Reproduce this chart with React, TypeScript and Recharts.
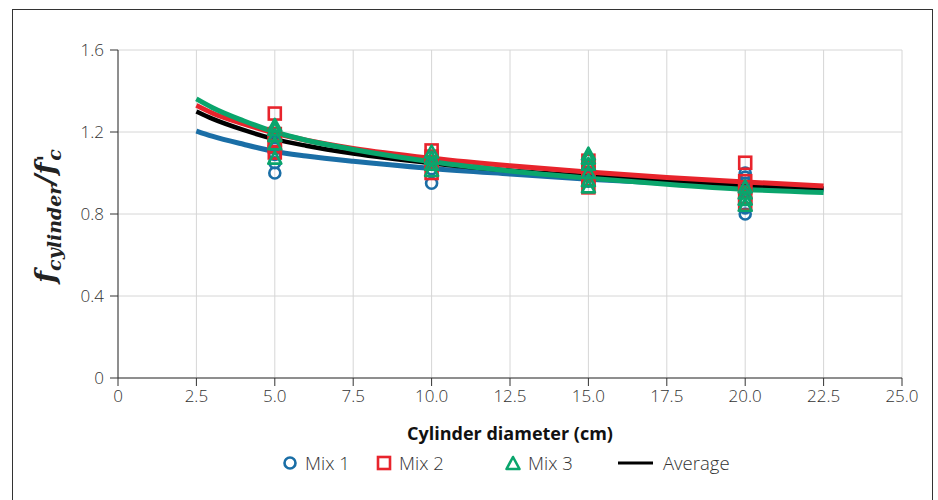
import React from "react";
import {
  ComposedChart, Line, Scatter, XAxis, YAxis, CartesianGrid,
} from "recharts";

const xTicks = [0, 2.5, 5, 7.5, 10, 12.5, 15, 17.5, 20, 22.5, 25];
const yTicks = [0, 0.4, 0.8, 1.2, 1.6];

// fitted curves
const curveX = [2.5, 3, 4, 5, 6, 7.5, 10, 12.5, 15, 17.5, 20, 22.5];
const mix1Curve = [1.205, 1.18, 1.14, 1.105, 1.083, 1.057, 1.022, 0.995, 0.97, 0.95, 0.933, 0.918];
const mix2Curve = [1.33, 1.293, 1.24, 1.195, 1.16, 1.12, 1.072, 1.035, 1.005, 0.978, 0.956, 0.937];
const mix3Curve = [1.362, 1.32, 1.255, 1.2, 1.16, 1.115, 1.055, 1.01, 0.975, 0.945, 0.92, 0.905];
const avgCurve = [1.3, 1.265, 1.21, 1.165, 1.133, 1.095, 1.048, 1.012, 0.985, 0.96, 0.94, 0.925];

// test results
const mix1X = [5, 5, 5, 5, 5, 10, 10, 10, 10, 15, 15, 15, 20, 20, 20, 20, 20, 20, 20];
const mix1Y = [1.0, 1.05, 1.09, 1.12, 1.15, 0.95, 1.02, 1.05, 1.08, 0.96, 1.0, 1.03, 0.8, 0.83, 0.87, 0.91, 0.95, 0.98, 1.0];
const mix2X = [5, 5, 5, 5, 5, 10, 10, 10, 10, 15, 15, 15, 15, 15, 20, 20, 20, 20, 20];
const mix2Y = [1.29, 1.1, 1.13, 1.16, 1.19, 1.0, 1.05, 1.08, 1.11, 0.93, 0.97, 1.0, 1.03, 1.06, 0.85, 0.88, 0.93, 0.96, 1.05];
const mix3X = [5, 5, 5, 5, 5, 10, 10, 10, 10, 15, 15, 15, 15, 15, 15, 20, 20, 20, 20];
const mix3Y = [1.07, 1.14, 1.18, 1.21, 1.23, 1.01, 1.04, 1.07, 1.1, 0.93, 0.96, 1.0, 1.04, 1.07, 1.09, 0.84, 0.87, 0.9, 0.93];

const legendLabels = ["Mix 1", "Mix 2", "Mix 3", "Average"];

const BLUE = "#1a6ea6";
const RED = "#e8242c";
const GREEN = "#0aa56c";
const FONT = "'Open Sans', 'Noto Sans', sans-serif";

const toRows = (xs: number[], ys: number[]) => xs.map((x, i) => ({ x, y: ys[i] }));

const fmt = (v: number) => (v === 0 ? "0" : v.toFixed(1));

function Circle({ cx, cy, color }: any) {
  return <circle cx={cx} cy={cy} r={5.5} fill="none" stroke={color} strokeWidth={2.6} />;
}
function Square({ cx, cy, color }: any) {
  return <rect x={cx - 6} y={cy - 6} width={12} height={12} fill="none" stroke={color} strokeWidth={2.6} />;
}
function Triangle({ cx, cy, color }: any) {
  return (
    <polygon
      points={`${cx},${cy - 7} ${cx + 6.5},${cy + 5} ${cx - 6.5},${cy + 5}`}
      fill="none" stroke={color} strokeWidth={2.6} strokeLinejoin="round"
    />
  );
}

function ChartLegend() {
  const icons = [
    <Circle cx={9} cy={11} color={BLUE} />,
    <Square cx={9} cy={11} color={RED} />,
    <Triangle cx={9} cy={12} color={GREEN} />,
    <line x1={1} x2={36} y1={11} y2={11} stroke="#000" strokeWidth={3} />,
  ];
  const lefts = [281, 375, 504, 617];
  return (
    <div style={{ position: "absolute", top: 450, left: 0, fontFamily: FONT, fontSize: 18.5, color: "#333", fontWeight: 300 }}>
      {legendLabels.map((label, i) => (
        <div key={label} style={{ position: "absolute", left: lefts[i], top: 0, display: "flex", alignItems: "center", whiteSpace: "nowrap" }}>
          <svg width={i === 3 ? 38 : 18} height={22}>{icons[i]}</svg>
          <span style={{ marginLeft: i === 3 ? 8 : 6 }}>{label}</span>
        </div>
      ))}
    </div>
  );
}

function YLabel({ viewBox }: any) {
  const cx = 55;
  const cy = viewBox.y + viewBox.height / 2 + 2;
  return (
    <text
      x={cx} y={cy} transform={`rotate(-90, ${cx}, ${cy})`} textAnchor="middle"
      fontFamily="'DejaVu Serif', 'Liberation Serif', serif" fontStyle="italic" fontWeight="bold" fill="#222"
    >
      <tspan fontSize={28}>f</tspan>
      <tspan fontSize={19} dy={6}>cylinder</tspan>
      <tspan fontSize={28} dy={-6}>/f</tspan>
      <tspan fontSize={22} dy={-2} dx={1}>'</tspan>
      <tspan fontSize={19} dy={8} dx={-6}>c</tspan>
    </text>
  );
}

export default function App() {
  return (
    <div style={{ position: "absolute", left: 0, top: 0, width: 938, height: 500, overflow: "hidden", background: "#fff" }}>
      <div style={{ position: "absolute", left: 12, top: 9, width: 919, height: 520, border: "1px solid #333" }} />
      <div style={{ position: "absolute", left: 0, top: 0 }}>
        <ComposedChart width={938} height={500} margin={{ top: 50, right: 36, left: 0, bottom: 92 }}>
          <CartesianGrid stroke="#d6d6d6" strokeWidth={1} />
          <XAxis
            type="number" dataKey="x" domain={[0, 25]} ticks={xTicks} tickFormatter={fmt}
            allowDuplicatedCategory={false}
            tick={{ fill: "#333", fontSize: 17, fontFamily: FONT, fontWeight: 300 }}
            axisLine={{ stroke: "#333" }} tickLine={{ stroke: "#333" }} tickSize={8} tickMargin={4}
            height={30}
            label={{ value: "Cylinder diameter (cm)", position: "bottom", offset: 19, fill: "#111", fontSize: 18, fontWeight: 700, fontFamily: FONT }}
          />
          <YAxis
            type="number" dataKey="y" domain={[0, 1.6]} ticks={yTicks} tickFormatter={fmt}
            tick={{ fill: "#333", fontSize: 17, fontFamily: FONT, fontWeight: 300 }}
            axisLine={{ stroke: "#333" }} tickLine={{ stroke: "#333" }} tickSize={8} tickMargin={6}
            width={118} label={<YLabel />}
          />
          <Line data={toRows(curveX, mix1Curve)} dataKey="y" name="Mix 1 fit" type="monotone" stroke={BLUE} strokeWidth={5} dot={false} isAnimationActive={false} />
          <Line data={toRows(curveX, avgCurve)} dataKey="y" name="Average" type="monotone" stroke="#000" strokeWidth={4.5} dot={false} isAnimationActive={false} />
          <Line data={toRows(curveX, mix2Curve)} dataKey="y" name="Mix 2 fit" type="monotone" stroke={RED} strokeWidth={5} dot={false} isAnimationActive={false} />
          <Line data={toRows(curveX, mix3Curve)} dataKey="y" name="Mix 3 fit" type="monotone" stroke={GREEN} strokeWidth={5} dot={false} isAnimationActive={false} />
          <Scatter data={toRows(mix1X, mix1Y)} dataKey="y" name="Mix 1" isAnimationActive={false} shape={(p: any) => <Circle cx={p.cx} cy={p.cy} color={BLUE} />} />
          <Scatter data={toRows(mix2X, mix2Y)} dataKey="y" name="Mix 2" isAnimationActive={false} shape={(p: any) => <Square cx={p.cx} cy={p.cy} color={RED} />} />
          <Scatter data={toRows(mix3X, mix3Y)} dataKey="y" name="Mix 3" isAnimationActive={false} shape={(p: any) => <Triangle cx={p.cx} cy={p.cy} color={GREEN} />} />
        </ComposedChart>
      </div>
      <ChartLegend />
    </div>
  );
}
